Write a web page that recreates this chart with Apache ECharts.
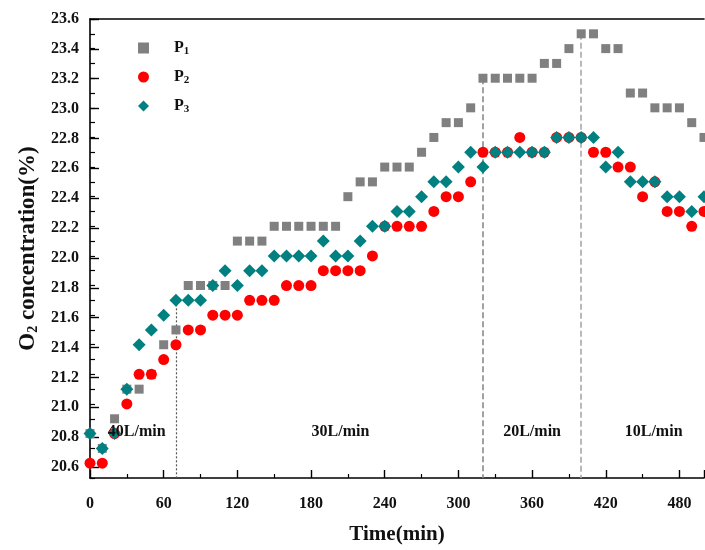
<!DOCTYPE html>
<html><head><meta charset="utf-8">
<script src="https://cdn.jsdelivr.net/npm/echarts@6/dist/echarts.min.js"></script>
<style>html,body{margin:0;padding:0;background:#fff}#c{width:705px;height:550px}</style>
</head><body><div id="c"></div>
<script>
// ---- data ----
const times = [0,10,20,30,40,50,60,70,80,90,100,110,120,130,140,150,160,170,180,190,200,210,220,230,240,250,260,270,280,290,300,310,320,330,340,350,360,370,380,390,400,410,420,430,440,450,460,470,480,490,500];
const p1 = [20.8,20.7,20.9,21.1,21.1,21.2,21.4,21.5,21.8,21.8,21.8,21.8,22.1,22.1,22.1,22.2,22.2,22.2,22.2,22.2,22.2,22.4,22.5,22.5,22.6,22.6,22.6,22.7,22.8,22.9,22.9,23.0,23.2,23.2,23.2,23.2,23.2,23.3,23.3,23.4,23.5,23.5,23.4,23.4,23.1,23.1,23.0,23.0,23.0,22.9,22.8];
const p2 = [20.6,20.6,20.8,21.0,21.2,21.2,21.3,21.4,21.5,21.5,21.6,21.6,21.6,21.7,21.7,21.7,21.8,21.8,21.8,21.9,21.9,21.9,21.9,22.0,22.2,22.2,22.2,22.2,22.3,22.4,22.4,22.5,22.7,22.7,22.7,22.8,22.7,22.7,22.8,22.8,22.8,22.7,22.7,22.6,22.6,22.4,22.5,22.3,22.3,22.2,22.3];
const p3 = [20.8,20.7,20.8,21.1,21.4,21.5,21.6,21.7,21.7,21.7,21.8,21.9,21.8,21.9,21.9,22.0,22.0,22.0,22.0,22.1,22.0,22.0,22.1,22.2,22.2,22.3,22.3,22.4,22.5,22.5,22.6,22.7,22.6,22.7,22.7,22.7,22.7,22.7,22.8,22.8,22.8,22.8,22.6,22.7,22.5,22.5,22.5,22.4,22.4,22.3,22.4];
const seriesNames = ['P1','P2','P3'];
const guideTimes = [70, 320, 400];
const guideTops = [21.7, 23.2, 23.5];
const regionNames = ['40L/min','30L/min','20L/min','10L/min'];
const regionTimes = [38, 204, 360, 459];
const regionLevel = 20.81;
const xMin = 0, xMax = 500, xStep = 60;
const yMin = 20.5, yMax = 23.6, yLabelMin = 20.6, yLabelStep = 0.2, yMinorStep = 0.1;

// ---- chart ----
const FONT = '"Liberation Serif","Times New Roman",serif';
const chart = echarts.init(document.getElementById('c'), null, {renderer: 'canvas'});
const gridTop = 19, gridBottom = 68, H = 550;
const gridH = H - gridTop - gridBottom;
const grid1H = gridH * (yMax - yLabelMin) / (yMax - yMin);

const pts = arr => times.map((t, i) => [t, arr[i]]);
const guideStyles = [
  {color: '#555', width: 1.2, type: [2, 2]},
  {color: '#8a8a8a', width: 1.6, type: [6, 3]},
  {color: '#a8a8a8', width: 1.6, type: [6, 3]}
];

const option = {
  backgroundColor: '#fff',
  animation: false,
  textStyle: {fontFamily: FONT},
  grid: [
    {left: 90, right: 1, top: gridTop, bottom: gridBottom},
    {left: 90, right: 1, top: gridTop, height: grid1H}
  ],
  legend: {
    orient: 'vertical', left: 138, top: 39, padding: 0,
    itemWidth: 11, itemHeight: 11, itemGap: 11,
    data: [
      {name: seriesNames[0], icon: 'rect'},
      {name: seriesNames[1], icon: 'circle'},
      {name: seriesNames[2], icon: 'diamond'}
    ],
    formatter: n => n.charAt(0) + '{s|' + n.slice(1) + '}',
    textStyle: {
      fontFamily: FONT, fontWeight: 'bold', fontSize: 16, color: '#111', lineHeight: 18,
      padding: [0, 0, 0, 20],
      rich: {s: {fontFamily: FONT, fontWeight: 'bold', fontSize: 11, color: '#111', lineHeight: 18, padding: [7, 0, 0, 0]}}
    }
  },
  xAxis: [
    {
      gridIndex: 0, type: 'value', min: xMin, max: xMax, interval: xStep, position: 'bottom',
      axisLine: {lineStyle: {color: '#000', width: 1.6}},
      axisTick: {inside: true, length: 8, lineStyle: {color: '#000', width: 1.4}},
      minorTick: {show: true, splitNumber: 2, length: 4, lineStyle: {color: '#000', width: 1.2}},
      splitLine: {show: false},
      axisLabel: {fontFamily: FONT, fontWeight: 'bold', fontSize: 16, color: '#111', margin: 18, showMaxLabel: false},
      name: 'Time(min)', nameLocation: 'middle', nameGap: 46,
      nameTextStyle: {fontFamily: FONT, fontWeight: 'bold', fontSize: 21, color: '#111'}
    },
    {
      gridIndex: 0, type: 'value', min: xMin, max: xMax, position: 'top',
      axisLine: {lineStyle: {color: '#000', width: 1.6}},
      axisTick: {show: false}, axisLabel: {show: false}, splitLine: {show: false}
    },
    {gridIndex: 1, type: 'value', min: xMin, max: xMax, show: false}
  ],
  yAxis: [
    {
      gridIndex: 0, type: 'value', min: yMin, max: yMax, interval: yMinorStep,
      axisLine: {show: true, lineStyle: {color: '#000', width: 1.6}},
      axisTick: {show: true, inside: true, length: 5, lineStyle: {color: '#000', width: 1.2}},
      axisLabel: {show: false}, splitLine: {show: false},
      name: 'O{s|2} concentration(%)', nameLocation: 'middle', nameGap: 50,
      nameTextStyle: {
        fontFamily: FONT, fontWeight: 'bold', fontSize: 23, color: '#111',
        rich: {s: {fontFamily: FONT, fontWeight: 'bold', fontSize: 14, color: '#111', padding: [9, 0, 0, 0]}}
      }
    },
    {
      gridIndex: 1, type: 'value', min: yLabelMin, max: yMax, interval: yLabelStep,
      axisLine: {show: false},
      axisTick: {show: true, inside: true, length: 9, lineStyle: {color: '#000', width: 1.4}},
      axisLabel: {fontFamily: FONT, fontWeight: 'bold', fontSize: 16, color: '#111', margin: 11,
        formatter: v => v.toFixed(1)},
      splitLine: {show: false}
    }
  ],
  series: [
    {
      type: 'scatter', name: 'guides', data: [], z: 1, silent: true,
      markLine: {
        silent: true, z: 1, symbol: ['none', 'none'], animation: false,
        label: {show: false},
        data: guideTimes.map((t, i) => [
          {coord: [t, guideTops[i]], lineStyle: guideStyles[i]},
          {coord: [t, yMin]}
        ])
      },
      markPoint: {
        silent: true, symbol: 'circle', symbolSize: 0, animation: false,
        label: {show: true, position: 'inside', formatter: '{b}', fontFamily: FONT, fontWeight: 'bold', fontSize: 16, color: '#111'},
        data: regionNames.map((n, i) => ({name: n, coord: [regionTimes[i], regionLevel]}))
      }
    },
    {name: seriesNames[0], type: 'scatter', data: pts(p1), symbol: 'rect', symbolSize: 9, itemStyle: {color: '#808080', opacity: 1}, z: 2},
    {name: seriesNames[1], type: 'scatter', data: pts(p2), symbol: 'circle', symbolSize: 11, itemStyle: {color: '#ff0000', opacity: 1}, z: 3},
    {name: seriesNames[2], type: 'scatter', data: pts(p3), symbol: 'diamond', symbolSize: 13, itemStyle: {color: '#008080', opacity: 1}, z: 4}
  ]
};
chart.setOption(option);
</script>
</body></html>
